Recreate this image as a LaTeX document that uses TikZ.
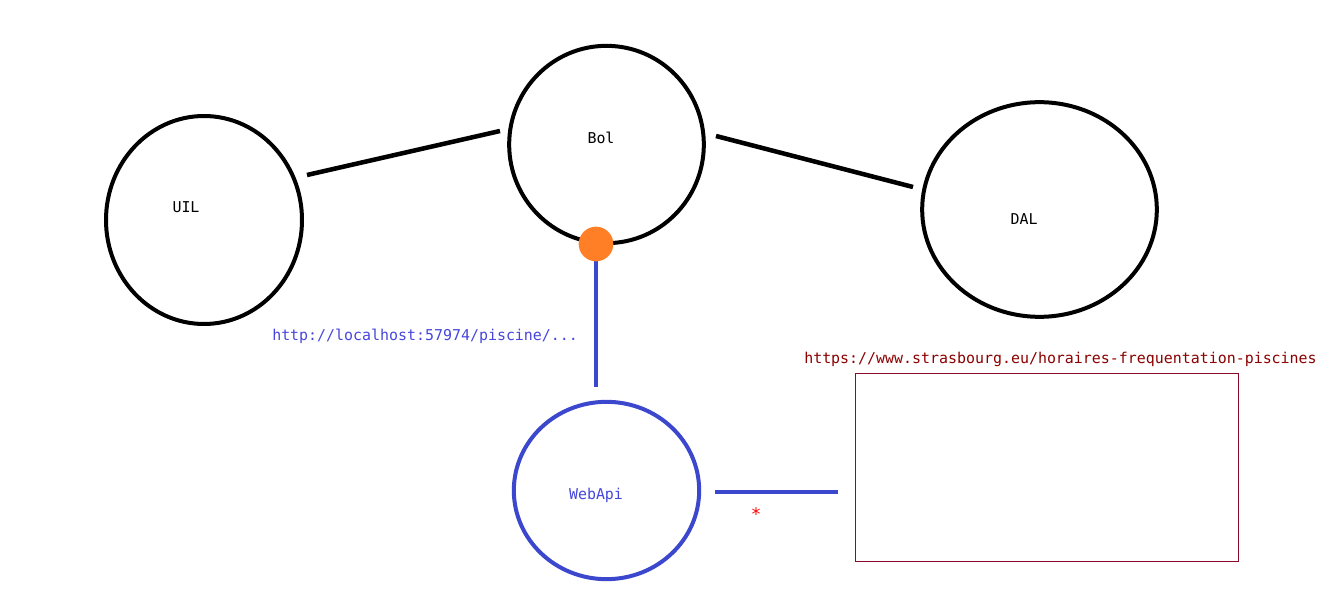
\documentclass[tikz,border=0pt]{standalone}
\usepackage{fontspec}
\setmonofont{DejaVu Sans Mono}
\usetikzlibrary{shapes.geometric}
\definecolor{wblue}{HTML}{3B47CC}
\definecolor{tblue}{HTML}{4646DC}
\definecolor{dorange}{HTML}{FF7F27}
\definecolor{dred}{HTML}{8B0A2A}
\definecolor{tred}{HTML}{8B0000}
\tikzset{
  oval/.style={ellipse, draw=black, line width=3pt, inner sep=0pt},
  lbl/.style={font=\ttfamily\fontsize{11.2}{13}\selectfont, inner sep=0pt},
  link/.style={line width=3.4pt},
}
\begin{document}
\begin{tikzpicture}[x=0.75pt,y=-0.75pt]
\useasboundingbox (0,0) rectangle (1325,591);
% layers
\node[oval, minimum width=147pt, minimum height=156pt] (uil) at (204,220) {};
\node[oval, minimum width=146pt, minimum height=148pt] (bol) at (606.5,144.5) {};
\node[oval, minimum width=176pt, minimum height=161pt] (dal) at (1039.5,209.5) {};
\node[oval, draw=wblue, minimum width=139pt, minimum height=133pt] (web) at (606.5,490.5) {};
% labels
\node[lbl] (uilt) at (186,207) {UIL};
\node[lbl] (bolt) at (601,138) {Bol};
\node[lbl] (dalt) at (1024,219) {DAL};
\node[lbl, text=tblue] (webt) at (596,495) {WebApi};
% connectors
\coordinate (a1) at (307,175);
\coordinate (a2) at (500,131);
\coordinate (b1) at (716,136);
\coordinate (b2) at (913,187);
\draw[link] (a1) -- (a2);
\draw[link] (b1) -- (b2);
\coordinate (c1) at (596,258);
\coordinate (c2) at (596,387);
\draw[link, wblue] (c1) -- (c2);
\node[circle, fill=dorange, minimum size=26pt, inner sep=0pt] (dot) at (596,244) {};
\coordinate (d1) at (715,492);
\coordinate (d2) at (838,492);
\draw[link, wblue] (d1) -- (d2);
\node[lbl, text=red, font=\ttfamily\fontsize{13}{15}\selectfont] (star) at (756,514) {*};
% external service
\node[draw=dred, line width=0.75pt, minimum width=287.25pt, minimum height=140.25pt, inner sep=0pt] (ext) at (1046.5,467.5) {};
\node[lbl, text=tblue, anchor=west] (url1) at (272,336) {http://localhost:57974/piscine/...};
\node[lbl, text=tred, anchor=west] (url2) at (804,359) {https://www.strasbourg.eu/horaires-frequentation-piscines};
\end{tikzpicture}
\end{document}
